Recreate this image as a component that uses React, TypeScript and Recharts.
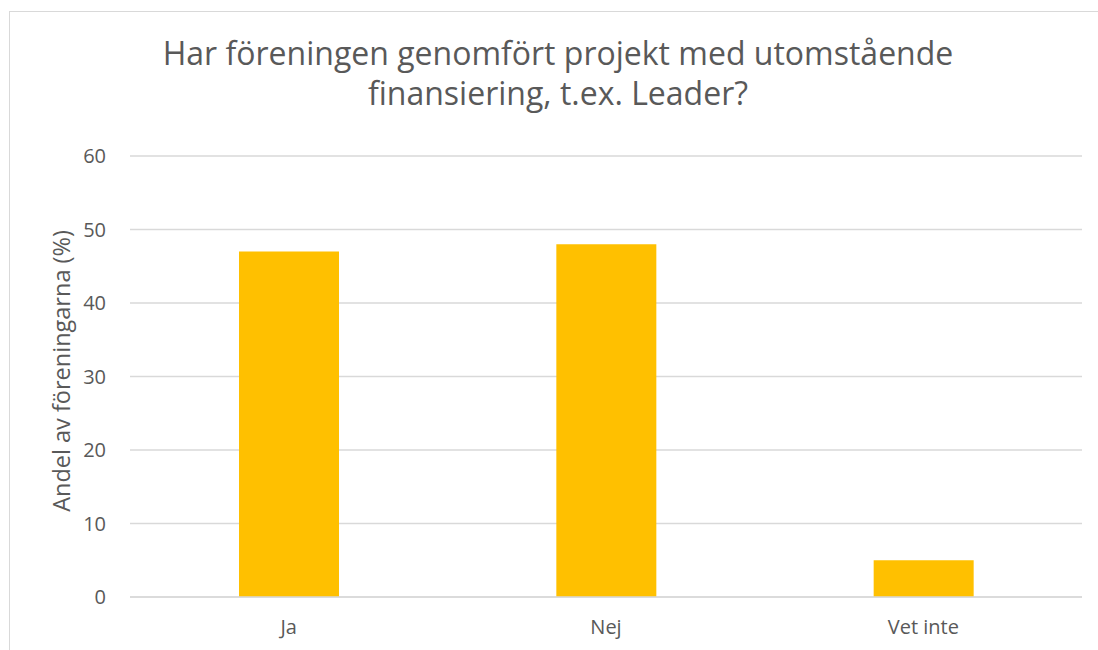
import { BarChart, Bar, XAxis, YAxis, CartesianGrid } from "recharts";

const categories = ["Ja", "Nej", "Vet inte"];
const shares = [47, 48, 5];
const yTicks = [0, 10, 20, 30, 40, 50, 60];

const titleLines = [
  "Har föreningen genomfört projekt med utomstående",
  "finansiering, t.ex. Leader?",
];
const yLabel = "Andel av föreningarna (%)";

const data = categories.map((name, i) => ({ name, value: shares[i] }));

const font = "'Open Sans', sans-serif";
const textGrey = "#595959";

export default function App() {
  return (
    <div
      style={{
        position: "absolute",
        left: 0,
        top: 0,
        width: 1098,
        height: 650,
        overflow: "hidden",
        background: "#fff",
        fontFamily: font,
      }}
    >
      <div
        style={{
          position: "absolute",
          left: 9,
          top: 11,
          width: 1200,
          height: 800,
          border: "1px solid #d9d9d9",
        }}
      />
      <div
        style={{
          position: "absolute",
          left: 0,
          top: 33,
          width: 1116,
          textAlign: "center",
          fontSize: 32,
          lineHeight: "40px",
          color: textGrey,
        }}
      >
        {titleLines.map((l) => (
          <div key={l}>{l}</div>
        ))}
      </div>
      <div
        style={{
          position: "absolute",
          left: 61,
          top: 371,
          transform: "translate(-50%, -50%) rotate(-90deg)",
          whiteSpace: "nowrap",
          fontSize: 23.5,
          color: textGrey,
        }}
      >
        {yLabel}
      </div>
      <BarChart
        width={1098}
        height={650}
        data={data}
        margin={{ top: 156, right: 16, bottom: 23, left: 70 }}
        style={{ position: "absolute", left: 0, top: 0 }}
      >
        <CartesianGrid vertical={false} stroke="#d9d9d9" strokeWidth={1.5} />
        <YAxis
          width={60}
          domain={[0, 60]}
          ticks={yTicks}
          axisLine={false}
          tickLine={false}
          tickMargin={18}
          tick={{ fontSize: 20, fill: textGrey, fontFamily: font }}
        />
        <XAxis
          dataKey="name"
          height={30}
          axisLine={{ stroke: "#d9d9d9", strokeWidth: 1.5 }}
          tickLine={false}
          tickMargin={17}
          tick={{ fontSize: 20, fill: textGrey, fontFamily: font }}
        />
        <Bar dataKey="value" fill="#ffc000" barSize={100} isAnimationActive={false} />
      </BarChart>
    </div>
  );
}
